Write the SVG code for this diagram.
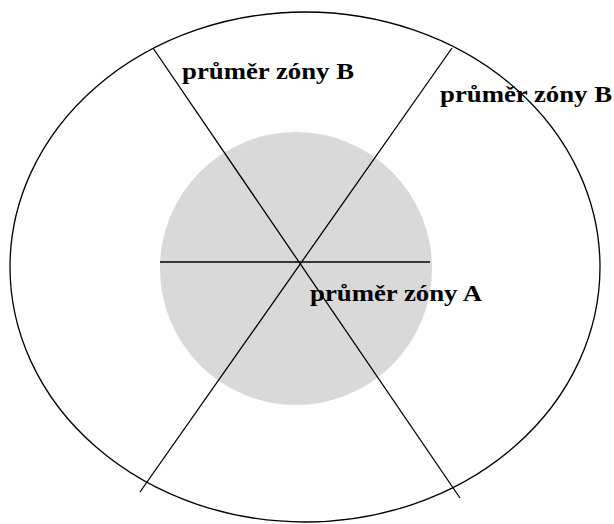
<svg xmlns="http://www.w3.org/2000/svg" width="614" height="524" viewBox="0 0 614 524">
<style>
.ln{stroke:#000;stroke-width:1.3;fill:none}
.lbl{font-family:"Liberation Serif","DejaVu Serif",serif;font-weight:bold;font-size:23px;fill:#000}
</style>
<rect width="614" height="524" fill="#fff"/>
<g id="zone-b">
<ellipse cx="305" cy="267" rx="295" ry="255" class="ln"/>
</g>
<g id="zone-a">
<ellipse cx="296" cy="268.5" rx="136" ry="136.5" fill="#d9d9d9"/>
</g>
<g id="connectors">
<line x1="153" y1="48" x2="460" y2="498" class="ln"/>
<line x1="452" y1="48" x2="140" y2="492" class="ln"/>
<line x1="160" y1="262" x2="430" y2="262" class="ln"/>
</g>
<g id="labels">
<text x="182" y="79" class="lbl" textLength="172" lengthAdjust="spacingAndGlyphs">průměr zóny B</text>
<text x="440" y="102" class="lbl" textLength="172" lengthAdjust="spacingAndGlyphs">průměr zóny B</text>
<text x="310" y="301" class="lbl" textLength="172" lengthAdjust="spacingAndGlyphs">průměr zóny A</text>
</g>
</svg>
